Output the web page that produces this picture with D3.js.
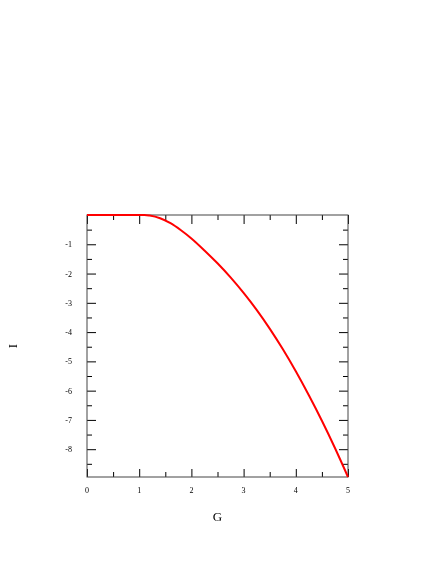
<!DOCTYPE html>
<html>
<head>
<meta charset="utf-8">
<script src="https://cdn.jsdelivr.net/npm/d3@7"></script>
<style>
  body { margin: 0; background: #fff; }
  text { font-family: "Liberation Serif", "DejaVu Serif", serif; fill: #000; }
  .chart { will-change: transform; }
</style>
</head>
<body>
<svg class="chart"></svg>
<script>
	// values
	var gValues = [0, 0.5, 1.0, 1.1, 1.2, 1.4, 1.6, 1.8, 2.0, 2.25, 2.5, 2.75, 3.0, 3.25, 3.5, 3.75, 4.0, 4.25, 4.5, 4.75, 5.0];
	var iValues = [0, 0, 0, 0, -0.02, -0.11, -0.28, -0.52, -0.8, -1.21, -1.65, -2.13, -2.66, -3.24, -3.88, -4.58, -5.34, -6.16, -7.03, -7.96, -8.95];
	var xTicks = [0, 1, 2, 3, 4, 5];
	var yTicks = [-1, -2, -3, -4, -5, -6, -7, -8];

	const margin = {top: 215, bottom: 87, right: 88, left: 87};
	var width = 436 - margin.left - margin.right;
	var height = 564 - margin.top - margin.bottom;

	var svg = d3.select('.chart')
		.attr('width', 436)
		.attr('height', 564);

	var chart = svg.append('g')
		.attr('transform', 'translate(' + margin.left + ',' + margin.top + ')');

	var x = d3.scaleLinear().domain([0, 5]).range([0, width]);
	var y = d3.scaleLinear().domain([-8.95, 0]).range([height, 0]);

	var xMinor = d3.range(0.5, 5, 1);
	var yMinor = d3.range(-0.5, -8.9, -1);

	// bottom / top axes
	chart.append('g')
		.attr('transform', 'translate(0,' + height + ')')
		.call(d3.axisTop(x).tickValues(xTicks).tickSize(8).tickFormat(''))
		.call((g) => g.select('.domain').remove());
	chart.append('g')
		.attr('transform', 'translate(0,' + height + ')')
		.call(d3.axisTop(x).tickValues(xMinor).tickSize(5).tickFormat(''))
		.call((g) => g.select('.domain').remove());
	chart.append('g')
		.call(d3.axisBottom(x).tickValues(xTicks).tickSize(9).tickFormat(''))
		.call((g) => g.select('.domain').remove());
	chart.append('g')
		.call(d3.axisBottom(x).tickValues(xMinor).tickSize(5).tickFormat(''))
		.call((g) => g.select('.domain').remove());

	// left / right axes
	chart.append('g')
		.call(d3.axisRight(y).tickValues(yTicks).tickSize(9).tickFormat(''))
		.call((g) => g.select('.domain').remove());
	chart.append('g')
		.call(d3.axisRight(y).tickValues(yMinor).tickSize(5).tickFormat(''))
		.call((g) => g.select('.domain').remove());
	chart.append('g')
		.attr('transform', 'translate(' + width + ',0)')
		.call(d3.axisLeft(y).tickValues(yTicks).tickSize(9).tickFormat(''))
		.call((g) => g.select('.domain').remove());
	chart.append('g')
		.attr('transform', 'translate(' + width + ',0)')
		.call(d3.axisLeft(y).tickValues(yMinor).tickSize(5).tickFormat(''))
		.call((g) => g.select('.domain').remove());

	chart.selectAll('.tick line').attr('stroke', '#000');

	// frame
	chart.append('rect')
		.attr('x', 0).attr('y', 0)
		.attr('width', width).attr('height', height)
		.attr('fill', 'none')
		.attr('stroke', '#444')
		.attr('stroke-width', 1);

	// tick labels
	chart.selectAll('.xlab')
		.data(xTicks)
		.enter()
		.append('text')
		.attr('x', (d) => x(d))
		.attr('y', height + 16)
		.attr('text-anchor', 'middle')
		.attr('font-size', 8)
		.text((d) => d);

	chart.selectAll('.ylab')
		.data(yTicks)
		.enter()
		.append('text')
		.attr('x', -15)
		.attr('y', (d) => y(d) + 3)
		.attr('text-anchor', 'end')
		.attr('font-size', 8)
		.text((d) => d);

	// axis titles
	svg.append('text')
		.attr('x', margin.left + width / 2)
		.attr('y', 521)
		.attr('text-anchor', 'middle')
		.attr('font-size', 13)
		.text('G');

	svg.append('text')
		.attr('transform', 'translate(17,346) rotate(-90)')
		.attr('text-anchor', 'middle')
		.attr('font-size', 13)
		.text('I');

	// curve
	var line = d3.line()
		.x((d, i) => x(gValues[i]))
		.y((d) => y(d))
		.curve(d3.curveMonotoneX);

	chart.append('path')
		.datum(iValues)
		.attr('fill', 'none')
		.attr('stroke', '#ff0000')
		.attr('stroke-width', 2)
		.attr('d', line);
</script>
</body>
</html>
